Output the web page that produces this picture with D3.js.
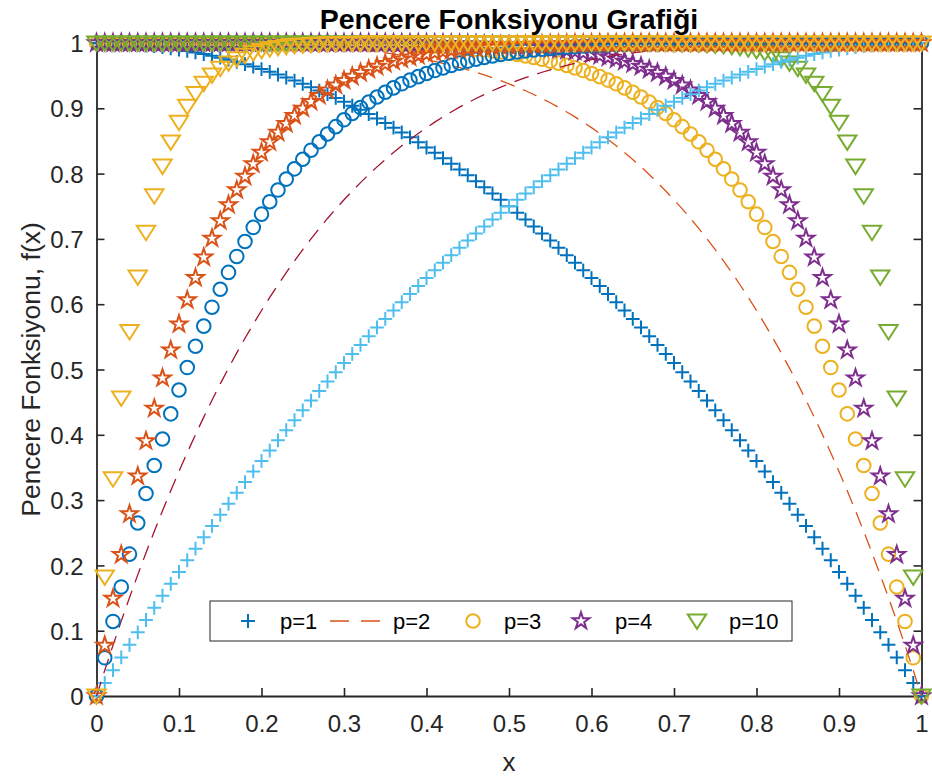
<!DOCTYPE html>
<html>
<head>
<meta charset="utf-8">
<script src="https://cdn.jsdelivr.net/npm/d3@7"></script>
<style>
  html, body { margin: 0; padding: 0; background: #ffffff; }
  svg { display: block; }
  text { font-family: "Liberation Sans", Arial, Helvetica, sans-serif; }
</style>
</head>
<body>
<svg id="chart" width="932" height="778"></svg>
<script>
// Sample positions on [0, 1]
const xs = [0, 0.01, 0.02, 0.03, 0.04, 0.05, 0.06, 0.07, 0.08, 0.09,
  0.10, 0.11, 0.12, 0.13, 0.14, 0.15, 0.16, 0.17, 0.18, 0.19,
  0.20, 0.21, 0.22, 0.23, 0.24, 0.25, 0.26, 0.27, 0.28, 0.29,
  0.30, 0.31, 0.32, 0.33, 0.34, 0.35, 0.36, 0.37, 0.38, 0.39,
  0.40, 0.41, 0.42, 0.43, 0.44, 0.45, 0.46, 0.47, 0.48, 0.49,
  0.50, 0.51, 0.52, 0.53, 0.54, 0.55, 0.56, 0.57, 0.58, 0.59,
  0.60, 0.61, 0.62, 0.63, 0.64, 0.65, 0.66, 0.67, 0.68, 0.69,
  0.70, 0.71, 0.72, 0.73, 0.74, 0.75, 0.76, 0.77, 0.78, 0.79,
  0.80, 0.81, 0.82, 0.83, 0.84, 0.85, 0.86, 0.87, 0.88, 0.89,
  0.90, 0.91, 0.92, 0.93, 0.94, 0.95, 0.96, 0.97, 0.98, 0.99,
  1.00];

// Falling taper, p = 1
const p1Fall = [1, 0.9999, 0.9996, 0.9991, 0.9984, 0.9975, 0.9964, 0.9951, 0.9936, 0.9919,
  0.99, 0.9879, 0.9856, 0.9831, 0.9804, 0.9775, 0.9744, 0.9711, 0.9676, 0.9639,
  0.96, 0.9559, 0.9516, 0.9471, 0.9424, 0.9375, 0.9324, 0.9271, 0.9216, 0.9159,
  0.91, 0.9039, 0.8976, 0.8911, 0.8844, 0.8775, 0.8704, 0.8631, 0.8556, 0.8479,
  0.84, 0.8319, 0.8236, 0.8151, 0.8064, 0.7975, 0.7884, 0.7791, 0.7696, 0.7599,
  0.75, 0.7399, 0.7296, 0.7191, 0.7084, 0.6975, 0.6864, 0.6751, 0.6636, 0.6519,
  0.64, 0.6279, 0.6156, 0.6031, 0.5904, 0.5775, 0.5644, 0.5511, 0.5376, 0.5239,
  0.51, 0.4959, 0.4816, 0.4671, 0.4524, 0.4375, 0.4224, 0.4071, 0.3916, 0.3759,
  0.36, 0.3439, 0.3276, 0.3111, 0.2944, 0.2775, 0.2604, 0.2431, 0.2256, 0.2079,
  0.19, 0.1719, 0.1536, 0.1351, 0.1164, 0.0975, 0.0784, 0.0591, 0.0396, 0.0199,
  0];

// Falling taper, p = 2
const p2Fall = [1, 1, 1, 1, 1, 1, 1, 1, 1, 1,
  0.9999, 0.9999, 0.9998, 0.9997, 0.9996, 0.9995, 0.9993, 0.9992, 0.999, 0.9987,
  0.9984, 0.9981, 0.9977, 0.9972, 0.9967, 0.9961, 0.9954, 0.9947, 0.9939, 0.9929,
  0.9919, 0.9908, 0.9895, 0.9881, 0.9866, 0.985, 0.9832, 0.9813, 0.9791, 0.9769,
  0.9744, 0.9717, 0.9689, 0.9658, 0.9625, 0.959, 0.9552, 0.9512, 0.9469, 0.9424,
  0.9375, 0.9323, 0.9269, 0.9211, 0.915, 0.9085, 0.9017, 0.8944, 0.8868, 0.8788,
  0.8704, 0.8615, 0.8522, 0.8425, 0.8322, 0.8215, 0.8103, 0.7985, 0.7862, 0.7733,
  0.7599, 0.7459, 0.7313, 0.716, 0.7001, 0.6836, 0.6664, 0.6485, 0.6298, 0.6105,
  0.5904, 0.5695, 0.5479, 0.5254, 0.5021, 0.478, 0.453, 0.4271, 0.4003, 0.3726,
  0.3439, 0.3142, 0.2836, 0.2519, 0.2193, 0.1855, 0.1507, 0.1147, 0.0776, 0.0394,
  0];

// Falling taper, p = 3
const p3Fall = [1, 1, 1, 1, 1, 1, 1, 1, 1, 1,
  1, 1, 1, 1, 1, 1, 1, 1, 1, 1,
  0.9999, 0.9999, 0.9999, 0.9999, 0.9998, 0.9998, 0.9997, 0.9996, 0.9995, 0.9994,
  0.9993, 0.9991, 0.9989, 0.9987, 0.9985, 0.9982, 0.9978, 0.9974, 0.997, 0.9965,
  0.9959, 0.9953, 0.9945, 0.9937, 0.9927, 0.9917, 0.9905, 0.9892, 0.9878, 0.9862,
  0.9844, 0.9824, 0.9802, 0.9778, 0.9752, 0.9723, 0.9692, 0.9657, 0.9619, 0.9578,
  0.9533, 0.9485, 0.9432, 0.9375, 0.9313, 0.9246, 0.9173, 0.9095, 0.9011, 0.8921,
  0.8824, 0.8719, 0.8607, 0.8487, 0.8358, 0.822, 0.8073, 0.7916, 0.7748, 0.7569,
  0.7379, 0.7176, 0.696, 0.6731, 0.6487, 0.6229, 0.5954, 0.5664, 0.5356, 0.503,
  0.4686, 0.4321, 0.3936, 0.353, 0.3101, 0.2649, 0.2172, 0.167, 0.1142, 0.0585,
  0];

// Falling taper, p = 4
const p4Fall = [1, 1, 1, 1, 1, 1, 1, 1, 1, 1,
  1, 1, 1, 1, 1, 1, 1, 1, 1, 1,
  1, 1, 1, 1, 1, 1, 1, 1, 1, 1,
  0.9999, 0.9999, 0.9999, 0.9999, 0.9998, 0.9998, 0.9997, 0.9996, 0.9996, 0.9995,
  0.9993, 0.9992, 0.999, 0.9988, 0.9986, 0.9983, 0.998, 0.9976, 0.9972, 0.9967,
  0.9961, 0.9954, 0.9947, 0.9938, 0.9928, 0.9916, 0.9903, 0.9889, 0.9872, 0.9853,
  0.9832, 0.9808, 0.9782, 0.9752, 0.9719, 0.9681, 0.964, 0.9594, 0.9543, 0.9486,
  0.9424, 0.9354, 0.9278, 0.9194, 0.9101, 0.8999, 0.8887, 0.8764, 0.863, 0.8483,
  0.8322, 0.8147, 0.7956, 0.7748, 0.7521, 0.7275, 0.7008, 0.6718, 0.6404, 0.6063,
  0.5695, 0.5297, 0.4868, 0.4404, 0.3904, 0.3366, 0.2786, 0.2163, 0.1492, 0.0773,
  0];

// Falling taper, p = 10
const p10Fall = [1, 1, 1, 1, 1, 1, 1, 1, 1, 1,
  1, 1, 1, 1, 1, 1, 1, 1, 1, 1,
  1, 1, 1, 1, 1, 1, 1, 1, 1, 1,
  1, 1, 1, 1, 1, 1, 1, 1, 1, 1,
  1, 1, 1, 1, 1, 1, 1, 1, 1, 1,
  1, 1, 1, 1, 1, 1, 1, 1, 1, 1,
  1, 0.9999, 0.9999, 0.9999, 0.9999, 0.9998, 0.9998, 0.9997, 0.9996, 0.9994,
  0.9992, 0.9989, 0.9986, 0.9982, 0.9976, 0.9968, 0.9959, 0.9946, 0.9931, 0.991,
  0.9885, 0.9852, 0.9811, 0.9759, 0.9694, 0.9612, 0.951, 0.9383, 0.9224, 0.9028,
  0.8784, 0.8484, 0.8113, 0.7658, 0.7099, 0.6415, 0.558, 0.4562, 0.3324, 0.1821,
  0];

// Rising taper, p = 1
const p1Rise = [0, 0.0199, 0.0396, 0.0591, 0.0784, 0.0975, 0.1164, 0.1351, 0.1536, 0.1719,
  0.19, 0.2079, 0.2256, 0.2431, 0.2604, 0.2775, 0.2944, 0.3111, 0.3276, 0.3439,
  0.36, 0.3759, 0.3916, 0.4071, 0.4224, 0.4375, 0.4524, 0.4671, 0.4816, 0.4959,
  0.51, 0.5239, 0.5376, 0.5511, 0.5644, 0.5775, 0.5904, 0.6031, 0.6156, 0.6279,
  0.64, 0.6519, 0.6636, 0.6751, 0.6864, 0.6975, 0.7084, 0.7191, 0.7296, 0.7399,
  0.75, 0.7599, 0.7696, 0.7791, 0.7884, 0.7975, 0.8064, 0.8151, 0.8236, 0.8319,
  0.84, 0.8479, 0.8556, 0.8631, 0.8704, 0.8775, 0.8844, 0.8911, 0.8976, 0.9039,
  0.91, 0.9159, 0.9216, 0.9271, 0.9324, 0.9375, 0.9424, 0.9471, 0.9516, 0.9559,
  0.96, 0.9639, 0.9676, 0.9711, 0.9744, 0.9775, 0.9804, 0.9831, 0.9856, 0.9879,
  0.99, 0.9919, 0.9936, 0.9951, 0.9964, 0.9975, 0.9984, 0.9991, 0.9996, 0.9999,
  1];

// Rising taper, p = 2
const p2Rise = [0, 0.0394, 0.0776, 0.1147, 0.1507, 0.1855, 0.2193, 0.2519, 0.2836, 0.3142,
  0.3439, 0.3726, 0.4003, 0.4271, 0.453, 0.478, 0.5021, 0.5254, 0.5479, 0.5695,
  0.5904, 0.6105, 0.6298, 0.6485, 0.6664, 0.6836, 0.7001, 0.716, 0.7313, 0.7459,
  0.7599, 0.7733, 0.7862, 0.7985, 0.8103, 0.8215, 0.8322, 0.8425, 0.8522, 0.8615,
  0.8704, 0.8788, 0.8868, 0.8944, 0.9017, 0.9085, 0.915, 0.9211, 0.9269, 0.9323,
  0.9375, 0.9424, 0.9469, 0.9512, 0.9552, 0.959, 0.9625, 0.9658, 0.9689, 0.9717,
  0.9744, 0.9769, 0.9791, 0.9813, 0.9832, 0.985, 0.9866, 0.9881, 0.9895, 0.9908,
  0.9919, 0.9929, 0.9939, 0.9947, 0.9954, 0.9961, 0.9967, 0.9972, 0.9977, 0.9981,
  0.9984, 0.9987, 0.999, 0.9992, 0.9993, 0.9995, 0.9996, 0.9997, 0.9998, 0.9999,
  0.9999, 1, 1, 1, 1, 1, 1, 1, 1, 1,
  1];

// Rising taper, p = 3
const p3Rise = [0, 0.0585, 0.1142, 0.167, 0.2172, 0.2649, 0.3101, 0.353, 0.3936, 0.4321,
  0.4686, 0.503, 0.5356, 0.5664, 0.5954, 0.6229, 0.6487, 0.6731, 0.696, 0.7176,
  0.7379, 0.7569, 0.7748, 0.7916, 0.8073, 0.822, 0.8358, 0.8487, 0.8607, 0.8719,
  0.8824, 0.8921, 0.9011, 0.9095, 0.9173, 0.9246, 0.9313, 0.9375, 0.9432, 0.9485,
  0.9533, 0.9578, 0.9619, 0.9657, 0.9692, 0.9723, 0.9752, 0.9778, 0.9802, 0.9824,
  0.9844, 0.9862, 0.9878, 0.9892, 0.9905, 0.9917, 0.9927, 0.9937, 0.9945, 0.9953,
  0.9959, 0.9965, 0.997, 0.9974, 0.9978, 0.9982, 0.9985, 0.9987, 0.9989, 0.9991,
  0.9993, 0.9994, 0.9995, 0.9996, 0.9997, 0.9998, 0.9998, 0.9999, 0.9999, 0.9999,
  0.9999, 1, 1, 1, 1, 1, 1, 1, 1, 1,
  1, 1, 1, 1, 1, 1, 1, 1, 1, 1,
  1];

// Rising taper, p = 4
const p4Rise = [0, 0.0773, 0.1492, 0.2163, 0.2786, 0.3366, 0.3904, 0.4404, 0.4868, 0.5297,
  0.5695, 0.6063, 0.6404, 0.6718, 0.7008, 0.7275, 0.7521, 0.7748, 0.7956, 0.8147,
  0.8322, 0.8483, 0.863, 0.8764, 0.8887, 0.8999, 0.9101, 0.9194, 0.9278, 0.9354,
  0.9424, 0.9486, 0.9543, 0.9594, 0.964, 0.9681, 0.9719, 0.9752, 0.9782, 0.9808,
  0.9832, 0.9853, 0.9872, 0.9889, 0.9903, 0.9916, 0.9928, 0.9938, 0.9947, 0.9954,
  0.9961, 0.9967, 0.9972, 0.9976, 0.998, 0.9983, 0.9986, 0.9988, 0.999, 0.9992,
  0.9993, 0.9995, 0.9996, 0.9996, 0.9997, 0.9998, 0.9998, 0.9999, 0.9999, 0.9999,
  0.9999, 1, 1, 1, 1, 1, 1, 1, 1, 1,
  1, 1, 1, 1, 1, 1, 1, 1, 1, 1,
  1, 1, 1, 1, 1, 1, 1, 1, 1, 1,
  1];

// Rising taper, p = 10
const p10Rise = [0, 0.1821, 0.3324, 0.4562, 0.558, 0.6415, 0.7099, 0.7658, 0.8113, 0.8484,
  0.8784, 0.9028, 0.9224, 0.9383, 0.951, 0.9612, 0.9694, 0.9759, 0.9811, 0.9852,
  0.9885, 0.991, 0.9931, 0.9946, 0.9959, 0.9968, 0.9976, 0.9982, 0.9986, 0.9989,
  0.9992, 0.9994, 0.9996, 0.9997, 0.9998, 0.9998, 0.9999, 0.9999, 0.9999, 0.9999,
  1, 1, 1, 1, 1, 1, 1, 1, 1, 1,
  1, 1, 1, 1, 1, 1, 1, 1, 1, 1,
  1, 1, 1, 1, 1, 1, 1, 1, 1, 1,
  1, 1, 1, 1, 1, 1, 1, 1, 1, 1,
  1, 1, 1, 1, 1, 1, 1, 1, 1, 1,
  1, 1, 1, 1, 1, 1, 1, 1, 1, 1,
  1];

const legendLabels = ["p=1", "p=2", "p=3", "p=4", "p=10"];
const xTickValues = [0, 0.1, 0.2, 0.3, 0.4, 0.5, 0.6, 0.7, 0.8, 0.9, 1];
const xTickLabels = ["0", "0.1", "0.2", "0.3", "0.4", "0.5", "0.6", "0.7", "0.8", "0.9", "1"];
const yTickValues = [0, 0.1, 0.2, 0.3, 0.4, 0.5, 0.6, 0.7, 0.8, 0.9, 1];
const yTickLabels = ["0", "0.1", "0.2", "0.3", "0.4", "0.5", "0.6", "0.7", "0.8", "0.9", "1"];

const titleText = "Pencere Fonksiyonu Grafiği";
const xLabelText = "x";
const yLabelText = "Pencere Fonksiyonu, f(x)";

// Colour order of the plotting tool
const C = {
  blue: "#0072BD", orange: "#D95319", yellow: "#EDB120", purple: "#7E2F8E",
  green: "#77AC30", lightblue: "#4DBEEE", darkred: "#A2142F"
};
const axisColor = "#262626";

// Drawing order: falling curves first, then rising curves
const series = [
  { values: p1Fall,  style: "plus",     color: C.blue },
  { values: p2Fall,  style: "dash",     color: C.orange },
  { values: p3Fall,  style: "circle",   color: C.yellow },
  { values: p4Fall,  style: "star",     color: C.purple },
  { values: p10Fall, style: "triangle", color: C.green },
  { values: p1Rise,  style: "plus",     color: C.lightblue },
  { values: p2Rise,  style: "dash",     color: C.darkred },
  { values: p3Rise,  style: "circle",   color: C.blue },
  { values: p4Rise,  style: "star",     color: C.orange },
  { values: p10Rise, style: "triangle", color: C.yellow }
];

const svg = d3.select("#chart");
const plot = { left: 96.5, right: 921.5, top: 43, bottom: 696 };

const x = d3.scaleLinear().domain([0, 1]).range([plot.left, plot.right]);
const y = d3.scaleLinear().domain([0, 1]).range([plot.bottom, plot.top]);

// Marker shapes centred on (0, 0)
function markerPath(style) {
  if (style === "plus") {
    const h = 6.9;
    return `M${-h},0H${h}M0,${-h}V${h}`;
  }
  if (style === "circle") {
    const r = 6.8;
    return `M${r},0A${r},${r} 0 1,1 ${-r},0A${r},${r} 0 1,1 ${r},0Z`;
  }
  if (style === "star") {
    const R = 8.8, ri = R * 0.382;
    const pts = [];
    for (let k = 0; k < 10; k++) {
      const a = -Math.PI / 2 + k * Math.PI / 5;
      const rr = k % 2 === 0 ? R : ri;
      pts.push([rr * Math.cos(a), rr * Math.sin(a)]);
    }
    return "M" + pts.map(p => p[0].toFixed(2) + "," + p[1].toFixed(2)).join("L") + "Z";
  }
  if (style === "triangle") {
    return "M-9.2,-6.6L9.2,-6.6L0,7.8Z";
  }
  return "";
}

// Axes box with inward ticks
const fmtX = (d, i) => xTickLabels[i];
const fmtY = (d, i) => yTickLabels[i];

const gBottom = svg.append("g")
  .attr("transform", `translate(0,${plot.bottom})`)
  .call(d3.axisBottom(x).tickValues(xTickValues).tickFormat(fmtX).tickSize(-8).tickSizeOuter(0).tickPadding(36));
const gTop = svg.append("g")
  .attr("transform", `translate(0,${plot.top})`)
  .call(d3.axisTop(x).tickValues(xTickValues).tickFormat("").tickSize(-8).tickSizeOuter(0));
const gLeft = svg.append("g")
  .attr("transform", `translate(${plot.left},0)`)
  .call(d3.axisLeft(y).tickValues(yTickValues).tickFormat(fmtY).tickSize(-8).tickSizeOuter(0).tickPadding(13));
const gRight = svg.append("g")
  .attr("transform", `translate(${plot.right},0)`)
  .call(d3.axisRight(y).tickValues(yTickValues).tickFormat("").tickSize(-8).tickSizeOuter(0));

[gBottom, gTop, gLeft, gRight].forEach(g => {
  g.select(".domain").attr("stroke", axisColor).attr("stroke-width", 1.8);
  g.selectAll(".tick line").attr("stroke", axisColor).attr("stroke-width", 1.6);
  g.selectAll(".tick text")
    .attr("fill", axisColor)
    .style("font-size", "24px")
    .style("font-family", "'Liberation Sans', Arial, sans-serif");
});
gBottom.selectAll(".tick text").attr("dy", "0");
gLeft.selectAll(".tick text").attr("dy", "0.36em");

// Data
const lineGen = d3.line().x((d, i) => x(xs[i])).y(d => y(d));
const dataLayer = svg.append("g");

series.forEach(s => {
  if (s.style === "dash") {
    dataLayer.append("path")
      .datum(s.values)
      .attr("d", lineGen)
      .attr("fill", "none")
      .attr("stroke", s.color)
      .attr("stroke-width", 1.3)
      .attr("stroke-dasharray", "15,9");
  } else {
    dataLayer.append("g")
      .selectAll("path")
      .data(s.values)
      .join("path")
      .attr("transform", (d, i) => `translate(${x(xs[i])},${y(d)})`)
      .attr("d", markerPath(s.style))
      .attr("fill", "none")
      .attr("stroke", s.color)
      .attr("stroke-width", 2)
      .attr("stroke-linejoin", "miter");
  }
});

// Legend
const legend = svg.append("g");
legend.append("rect")
  .attr("x", 210).attr("y", 601).attr("width", 582).attr("height", 40)
  .attr("fill", "#ffffff").attr("stroke", axisColor).attr("stroke-width", 1);

const legendItems = [
  { label: legendLabels[0], style: "plus",     color: C.blue,   mx: 248, tx: 280 },
  { label: legendLabels[1], style: "dash",     color: C.orange, mx: 355, tx: 393 },
  { label: legendLabels[2], style: "circle",   color: C.yellow, mx: 473, tx: 504 },
  { label: legendLabels[3], style: "star",     color: C.purple, mx: 581, tx: 615 },
  { label: legendLabels[4], style: "triangle", color: C.green,  mx: 697, tx: 729 }
];
const legY = 621;
legendItems.forEach(it => {
  if (it.style === "dash") {
    legend.append("line")
      .attr("x1", it.mx - 25).attr("x2", it.mx + 25)
      .attr("y1", legY).attr("y2", legY)
      .attr("stroke", it.color).attr("stroke-width", 1.3)
      .attr("stroke-dasharray", "19,12");
  } else {
    legend.append("path")
      .attr("transform", `translate(${it.mx},${legY})`)
      .attr("d", markerPath(it.style))
      .attr("fill", "none").attr("stroke", it.color).attr("stroke-width", 2);
  }
  legend.append("text")
    .attr("x", it.tx).attr("y", legY + 8)
    .attr("fill", "#000000")
    .style("font-size", "22px")
    .text(it.label);
});

// Title and axis labels
svg.append("text")
  .attr("x", (plot.left + plot.right) / 2).attr("y", 29)
  .attr("text-anchor", "middle")
  .attr("fill", "#000000")
  .style("font-size", "28.5px").style("font-weight", "bold")
  .text(titleText);

svg.append("text")
  .attr("x", (plot.left + plot.right) / 2).attr("y", 771)
  .attr("text-anchor", "middle")
  .attr("fill", axisColor)
  .style("font-size", "26px")
  .text(xLabelText);

svg.append("text")
  .attr("transform", `translate(40,${(plot.top + plot.bottom) / 2}) rotate(-90)`)
  .attr("text-anchor", "middle")
  .attr("fill", axisColor)
  .style("font-size", "26.5px")
  .text(yLabelText);
</script>
</body>
</html>
